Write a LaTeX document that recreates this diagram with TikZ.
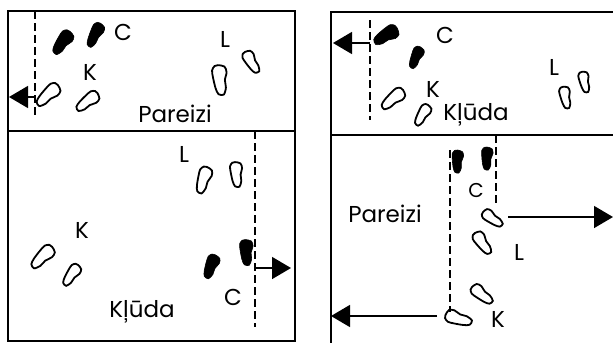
\documentclass[tikz,border=0pt]{standalone}
\usepackage{fontspec}
\setmainfont{Poppins}
\usetikzlibrary{arrows.meta}

\begin{document}
\begin{tikzpicture}
  [x=1pt,y=-1pt,
   frame/.style={line width=1.5pt},
   track/.style={line width=1.4pt,dash pattern=on 8pt off 4pt},
   push/.style={line width=1.5pt,-{Triangle[length=19pt,width=22pt]}},
   letter/.style={font=\fontsize{23}{23}\selectfont,anchor=base,inner sep=0pt},
   open foot/.style={draw=black,line width=1.8pt},
   black foot/.style={draw=black,fill=black,line width=0.6pt},
   foot/.pic={
     \path[pic actions,xscale=#1] plot[smooth cycle] coordinates
       {(0,-1) (0.36,-0.85) (0.44,-0.45) (0.28,0.05) (0.28,0.55) (0.1,1)
        (-0.2,0.92) (-0.32,0.5) (-0.38,-0.2) (-0.38,-0.7) (-0.2,-0.97)};
   }
  ]
  \useasboundingbox (0,0) rectangle (613,343);

  \draw[frame] (8,11) rectangle (295,341);
  \draw[frame] (8,131) -- (295,131);
  \draw[frame] (613,12) -- (331,12) -- (331,343);
  \draw[frame] (331,135) -- (613,135);

  \coordinate (ul-top) at (35,11);
  \coordinate (ul-end) at (35,118);
  \coordinate (ul-from) at (35,97);
  \coordinate (ul-to) at (9,97);
  \draw[track] (ul-top) -- (ul-end);
  \draw[push] (ul-from) -- (ul-to);

  \coordinate (ll-top) at (255,131);
  \coordinate (ll-end) at (255,327);
  \coordinate (ll-from) at (255,268);
  \coordinate (ll-to) at (291,268);
  \draw[track] (ll-top) -- (ll-end);
  \draw[push] (ll-from) -- (ll-to);

  \coordinate (ur-top) at (370,20);
  \coordinate (ur-end) at (370,120);
  \coordinate (ur-from) at (370,43);
  \coordinate (ur-to) at (333,43);
  \draw[track] (ur-top) -- (ur-end);
  \draw[push] (ur-from) -- (ur-to);

  \coordinate (lr-top) at (496,135);
  \coordinate (lr-end) at (496,206);
  \coordinate (lr-left) at (450,150);
  \coordinate (lr-low) at (450,312);
  \coordinate (lr-from) at (508,217);
  \coordinate (lr-to) at (613,217);
  \coordinate (lr-back) at (437,316);
  \coordinate (lr-edge) at (331,316);
  \draw[track] (lr-top) -- (lr-end);
  \draw[track] (lr-left) -- (lr-low);
  \draw[push] (lr-from) -- (lr-to);
  \draw[push] (lr-back) -- (lr-edge);

  \pic[black foot,rotate=-34,scale=13.5] at (62.5,42.5) {foot=1.25};
  \pic[black foot,rotate=-25,scale=13] at (95,35) {foot=1.15};
  \pic[open foot,rotate=-45,scale=14] at (48,95) {foot=1.15};
  \pic[open foot,rotate=-50,scale=13] at (87.5,101.5) {foot=1.15};
  \pic[open foot,rotate=8,scale=15] at (220,80) {foot=1.15};
  \pic[open foot,rotate=33,scale=12] at (251.5,62) {foot=1.15};

  \pic[open foot,rotate=-15,scale=13.5] at (203.5,180) {foot=1.15};
  \pic[open foot,rotate=7,scale=12.5] at (236.5,174.5) {foot=1.15};
  \pic[open foot,rotate=-43,scale=14] at (42.5,257) {foot=1.15};
  \pic[open foot,rotate=-33,scale=12] at (71.5,275) {foot=1.15};
  \pic[black foot,rotate=-19,scale=12.5] at (211,266.5) {foot=1.25};
  \pic[black foot,rotate=5,scale=13] at (246.5,252.5) {foot=1.25};

  \pic[black foot,rotate=-56,scale=13.5] at (386,35.5) {foot=1.3};
  \pic[black foot,rotate=-21,scale=11.5] at (416,57.5) {foot=1.2};
  \pic[open foot,rotate=-48,scale=13.5] at (393,99) {foot=1.15};
  \pic[open foot,rotate=-29,scale=11.5] at (422.5,115) {foot=1.15};
  \pic[open foot,rotate=13,scale=11] at (565.5,97.5) {foot=1.15};
  \pic[open foot,rotate=14,scale=10.5] at (584.5,82) {foot=1.15};

  \pic[black foot,scale=11.5] at (457.5,161.5) {foot=1.2};
  \pic[black foot,scale=11.5] at (487,158.5) {foot=1.2};
  \pic[open foot,rotate=56,scale=11.5] at (492.5,218.5) {foot=1.15};
  \pic[open foot,rotate=37,scale=12.5] at (482.5,243) {foot=1.15};
  \pic[open foot,rotate=53,scale=12.5] at (482,294.5) {foot=1.15};
  \pic[open foot,rotate=75,scale=13.5] at (458.5,318.5) {foot=1.15};

  \node[letter] (ul-C) at (123,40) {C};
  \node[letter] (ul-K) at (90,80) {K};
  \node[letter] (ul-L) at (225,47) {L};
  \node[letter] (ul-right) at (175,122) {Pareizi};

  \node[letter] (ll-L) at (184,162) {L};
  \node[letter] (ll-K) at (82,238) {K};
  \node[letter] (ll-C) at (233,305) {C};
  \node[letter] (ll-wrong) at (142,317) {Kļūda};

  \node[letter] (ur-C) at (445,43) {C};
  \node[letter] (ur-K) at (433,97) {K};
  \node[letter] (ur-L) at (554,75) {L};
  \node[letter] (ur-wrong) at (476,120) {Kļūda};

  \node[letter,font=\fontsize{20}{20}\selectfont] (lr-C) at (476,197) {C};
  \node[letter] (lr-right) at (385,222) {Pareizi};
  \node[letter] (lr-L) at (519,260) {L};
  \node[letter] (lr-K) at (498,327) {K};
\end{tikzpicture}
\end{document}
